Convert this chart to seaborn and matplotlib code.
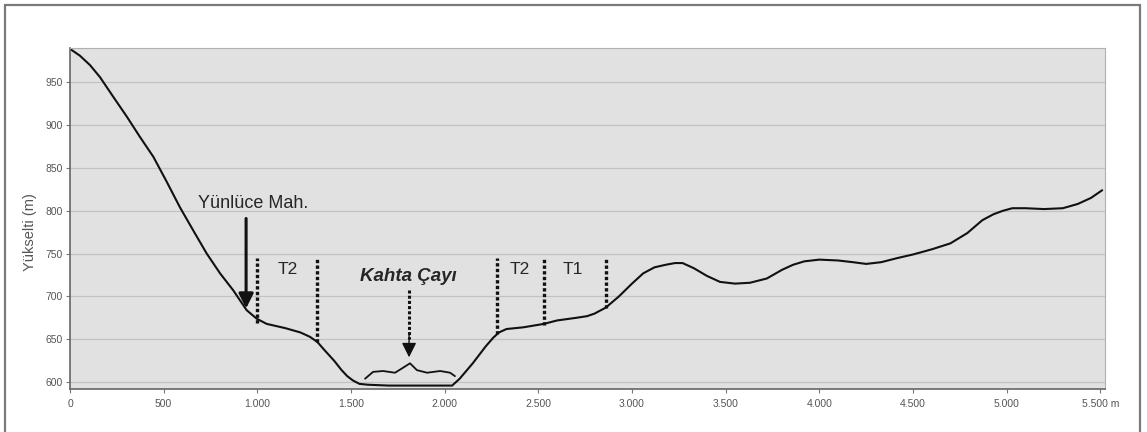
import matplotlib
matplotlib.use("Agg")
import matplotlib.pyplot as plt
from matplotlib.patches import Rectangle, FancyArrowPatch
import pandas as pd
import seaborn as sns

# Topographic cross-section (distance in m, elevation in m)
distance = [0, 53, 107, 160, 231, 303, 374, 445, 516, 587, 658, 730, 801, 872,
            943, 997, 1050, 1150, 1230, 1280, 1320, 1360, 1410, 1450, 1480,
            1510, 1545, 1590, 1700, 1900, 2040, 2080, 2150, 2220, 2260, 2290,
            2330, 2420, 2530, 2600, 2700, 2760, 2800, 2860, 2930, 3000, 3060,
            3120, 3180, 3230, 3270, 3330, 3400, 3470, 3550, 3630, 3720, 3800,
            3860, 3920, 4000, 4100, 4180, 4250, 4330, 4420, 4500, 4600, 4700,
            4790, 4870, 4930, 4980, 5030, 5100, 5200, 5300, 5380, 5450, 5510]
elevation = [989, 981, 970, 956, 933, 910, 886, 863, 834, 804, 777, 750, 727, 707,
             684, 674, 668, 663, 658, 653, 647, 637, 625, 614, 607,
             602, 598, 597, 596, 596, 596, 604, 622, 642, 652, 658,
             662, 664, 668, 672, 675, 677, 680, 687, 700, 715, 727,
             734, 737, 739, 739, 733, 724, 717, 715, 716, 721, 731,
             737, 741, 743, 742, 740, 738, 740, 745, 749, 755, 762,
             774, 789, 796, 800, 803, 803, 802, 803, 808, 815, 824]

# River channel sketch (Kahta Çayı)
river_x = [1575, 1618, 1671, 1735, 1772, 1815, 1852, 1906, 1976, 2029, 2055]
river_y = [604, 612, 613, 611, 616, 622, 614, 611, 613, 611, 607]

# Terrace boundaries
terrace_x = [1000, 1320, 2280, 2530, 2860]
terrace_base = [669, 647, 656, 667, 686]
terrace_top = 745

terrace_labels = ["T2", "T2", "T1"]
terrace_label_x = [1160, 2402, 2685]
terrace_label_y = [732, 732, 731]

x_ticks = [0, 500, 1000, 1500, 2000, 2500, 3000, 3500, 4000, 4500, 5000, 5500]
x_ticklabels = ["0", "500", "1.000", "1.500", "2.000", "2.500", "3.000",
                "3.500", "4.000", "4.500", "5.000", "5.500 m"]
y_ticks = [600, 650, 700, 750, 800, 850, 900, 950]

sns.set_theme(style="white")
plt.rcParams["font.family"] = ["Liberation Sans", "DejaVu Sans"]

W, H = 1147, 432
fig = plt.figure(figsize=(W / 100, H / 100), dpi=100)
fig.patch.set_facecolor("white")

# outer frame
fig.add_artist(Rectangle((5 / W, -0.05), (1140 - 5) / W, 1 - 5 / H + 0.05,
                         transform=fig.transFigure, fill=False,
                         edgecolor="#7a7a7a", linewidth=1.6))

ax = fig.add_axes([70 / W, 1 - 389 / H, (1105 - 70) / W, (389 - 48) / H])
ax.set_facecolor("#e1e1e1")

profile = pd.DataFrame({"distance": distance, "elevation": elevation})
river = pd.DataFrame({"distance": river_x, "elevation": river_y})

for yv in y_ticks:
    ax.axhline(yv, color="#c2c2c2", linewidth=0.9, zorder=0.5)

sns.lineplot(data=profile, x="distance", y="elevation", ax=ax,
             color="#111111", linewidth=1.5, sort=False)
sns.lineplot(data=river, x="distance", y="elevation", ax=ax,
             color="#111111", linewidth=1.3, sort=False)

for xv, yb in zip(terrace_x, terrace_base):
    ax.plot([xv, xv], [yb, terrace_top], color="#111111", linewidth=2.4,
            linestyle=(0, (1.0, 0.7)), solid_capstyle="butt")

for lab, lx, ly in zip(terrace_labels, terrace_label_x, terrace_label_y):
    ax.text(lx, ly, lab, ha="center", va="center", fontsize=12.5,
            color="#262626")

# settlement marker
ax.text(980, 808, "Yünlüce Mah.", ha="center", va="center", fontsize=13,
        color="#262626")
ax.add_patch(FancyArrowPatch((940, 791), (940, 686), arrowstyle="-|>",
                             mutation_scale=22, color="#111111",
                             linewidth=2.2, shrinkA=0, shrinkB=0))

# river marker
ax.text(1804, 723, "Kahta Çayı", ha="center", va="center", fontsize=13.5,
        color="#262626", style="italic", weight="bold")
ax.plot([1810, 1810], [707, 650], color="#111111", linewidth=2.2,
        linestyle=(0, (1.0, 0.7)))
ax.add_patch(FancyArrowPatch((1810, 655), (1810, 629), arrowstyle="-|>",
                             mutation_scale=22, color="#111111",
                             linewidth=1.0, shrinkA=0, shrinkB=0))

ax.set_xlim(0, 5525)
ax.set_ylim(592, 990)
ax.set_xticks(x_ticks)
ax.set_xticklabels(x_ticklabels)
ax.set_yticks(y_ticks)
ax.set_xlabel("")
ax.set_ylabel("")
ax.tick_params(axis="both", which="both", direction="out", length=3,
               width=0.8, color="#777777", labelsize=7.5,
               labelcolor="#555555", pad=2)
ax.tick_params(axis="x", bottom=True, pad=4)
ax.tick_params(axis="y", left=True)

for side in ["left", "bottom"]:
    ax.spines[side].set_color("#666666")
    ax.spines[side].set_linewidth(1.2)
for side in ["top", "right"]:
    ax.spines[side].set_color("#b0b0b0")
    ax.spines[side].set_linewidth(0.8)

fig.text(30 / W, 1 - 232 / H, "Yükselti (m)", rotation=90, ha="center",
         va="center", fontsize=10.5, color="#555555")

fig.savefig("out.png", dpi=100, facecolor="white")
